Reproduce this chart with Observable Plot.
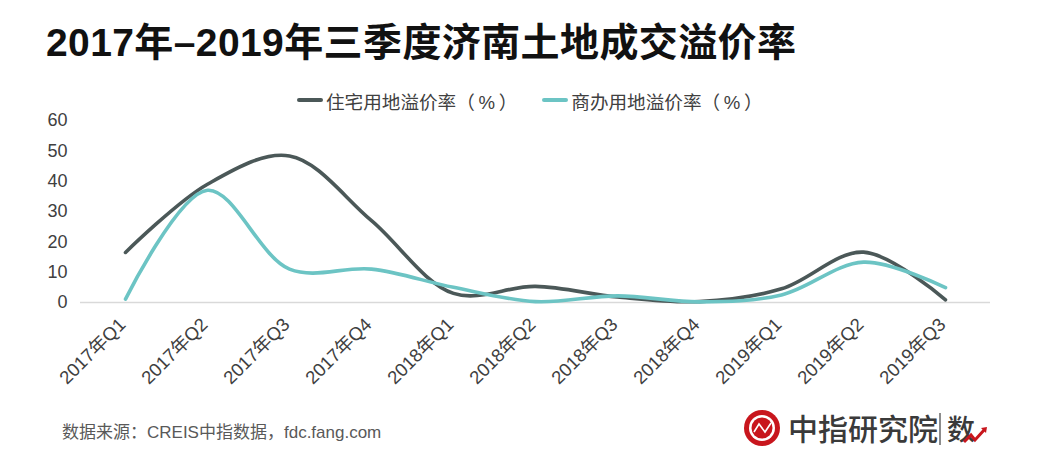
<!DOCTYPE html>
<html>
<head>
<meta charset="utf-8">
<script src="https://cdn.jsdelivr.net/npm/d3@7"></script>
<script src="https://cdn.jsdelivr.net/npm/@observablehq/plot@0.6"></script>
<style>
  html, body { margin: 0; padding: 0; background: #fff; }
  #page { position: relative; width: 1040px; height: 462px; overflow: hidden; background: #fff;
          font-family: "Liberation Sans", "Noto Sans CJK SC", sans-serif; }
  #title { position: absolute; left: 46px; top: 11px; font-size: 39px; font-weight: bold; color: #111;
           font-family: "Liberation Sans", "Noto Sans CJK SC", sans-serif; white-space: nowrap; letter-spacing: 0.4px; }
  #legend { position: absolute; left: 297px; top: 85px; font-size: 18.6px; color: #404040; white-space: nowrap;
            font-family: "Liberation Sans", "Noto Sans CJK SC", sans-serif; }
  .item { display: inline-flex; align-items: center; }
  .sw { display: inline-block; width: 26px; height: 4px; border-radius: 2px; margin-right: 3px; }
  #chart { position: absolute; left: 0; top: 108px; }
  #source { position: absolute; left: 62px; top: 418px; font-size: 17px; color: #595959; white-space: nowrap;
            font-family: "Liberation Sans", "Noto Sans CJK SC", sans-serif; }
  #logo { position: absolute; left: 740px; top: 405px; }
</style>
</head>
<body>
<div id="page">
  <div id="title">2017年–2019年三季度济南土地成交溢价率</div>
  <div id="legend"></div>
  <div id="chart"></div>
  <div id="source">数据来源：CREIS中指数据，fdc.fang.com</div>
  <div id="logo"></div>
</div>
<script>
const quarters = ["2017年Q1","2017年Q2","2017年Q3","2017年Q4","2018年Q1","2018年Q2","2018年Q3","2018年Q4","2019年Q1","2019年Q2","2019年Q3"];
const seriesNames = ["住宅用地溢价率（\u2009%\u2009）", "商办用地溢价率（\u2009%\u2009）"];
const residential = [16.5, 39.0, 48.3, 27.0, 3.0, 5.3, 1.8, 0.3, 4.5, 16.6, 0.9];
const commercial  = [1.1, 37.0, 11.0, 11.0, 5.0, 0.3, 2.2, 0.2, 2.5, 13.3, 4.9];
const yTicks = [0, 10, 20, 30, 40, 50, 60];
const colors = ["#4b5858", "#6cc4c4"];

const data = [];
quarters.forEach((q, i) => {
  data.push({q, v: residential[i], s: seriesNames[0]});
  data.push({q, v: commercial[i], s: seriesNames[1]});
});

// legend
const legend = document.getElementById("legend");
seriesNames.forEach((name, i) => {
  const it = document.createElement("span");
  it.className = "item";
  if (i > 0) it.style.marginLeft = "25px";
  it.innerHTML = `<span class="sw" style="background:${colors[i]}"></span><span>${name}</span>`;
  legend.appendChild(it);
});

const chart = Plot.plot({
  width: 1040,
  height: 292,
  marginLeft: 80,
  marginRight: 50,
  marginTop: 12,
  marginBottom: 98,
  style: { fontFamily: "Liberation Sans, Noto Sans CJK SC, sans-serif", color: "#404040", background: "transparent", overflow: "visible" },
  x: { type: "point", domain: quarters, padding: 0.5, label: null },
  y: { domain: [0, 60], label: null },
  color: { domain: seriesNames, range: colors },
  marks: [
    Plot.ruleY([0], { stroke: "#d9d9d9", strokeWidth: 1.3 }),
    Plot.line(data, { x: "q", y: "v", z: "s", stroke: "s", curve: "catmull-rom", strokeWidth: 3.6, strokeLinecap: "round" }),
    Plot.axisY({ ticks: yTicks, tickSize: 0, tickPadding: 13, fontSize: 18, fill: "#404040" }),
    Plot.axisX({ tickSize: 0, tickRotate: -45, tickPadding: 19, dx: -3, fontSize: 18.5, fill: "#404040" })
  ]
});
document.getElementById("chart").appendChild(chart);

// logo
document.getElementById("logo").innerHTML = `
<svg width="260" height="50" xmlns="http://www.w3.org/2000/svg">
  <circle cx="22" cy="23" r="18" fill="#c8161d"/>
  <circle cx="22" cy="23" r="13" fill="#fff"/>
  <circle cx="22" cy="23" r="10.5" fill="#c8161d"/>
  <path d="M14 27 L19 19 L25 27 L31 18" stroke="#fff" stroke-width="1.6" fill="none"/>
  <text x="48" y="35" font-size="30" fill="#3a3a3a" font-family="Noto Sans CJK SC" font-weight="500">中指研究院</text>
  <line x1="200" y1="8" x2="200" y2="40" stroke="#666" stroke-width="1.5"/>
  <text x="207" y="35" font-size="28" fill="#3a3a3a" font-family="Noto Sans CJK SC" font-weight="500">数</text>
  <path d="M224 37 L231 30 L235 35 L245 24" stroke="#c8161d" stroke-width="3" fill="none"/>
  <path d="M241 23 L247 22 L246 28 Z" fill="#c8161d"/>
</svg>`;
</script>
</body>
</html>
